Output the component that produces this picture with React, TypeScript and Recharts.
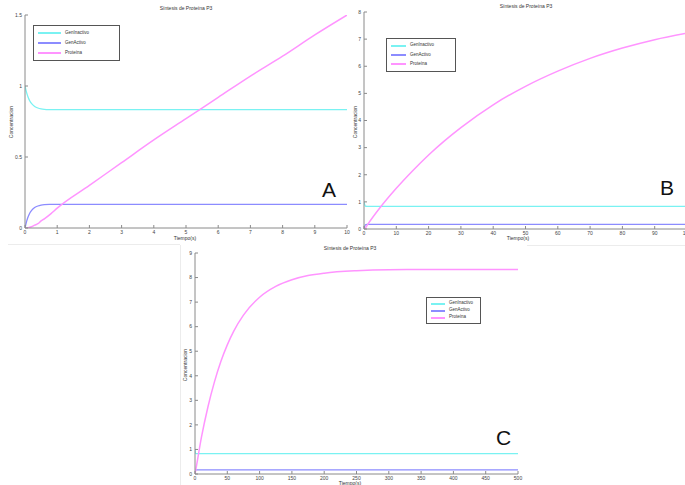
import { LineChart, Line, XAxis, YAxis, Legend } from 'recharts'

const FONT = '"Liberation Sans", Arial, sans-serif'

const CYAN = '#7af2f2'
const BLUE = '#8c8cff'
const PINK = '#ff94ff'
const AXIS = '#8a8a8a'

const seriesNames = ['GenInactivo', 'GenActivo', 'Proteína']
const seriesColors = [CYAN, BLUE, PINK]

// Panel A: first 10 s
const timeA = [0, 0.05, 0.1, 0.15, 0.2, 0.3, 0.4, 0.5, 0.6, 0.8, 1, 2, 3, 4, 5, 6, 7, 8, 9, 10]
const inactivoA = [1, 0.953, 0.919, 0.894, 0.877, 0.856, 0.845, 0.839, 0.836, 0.834, 0.833, 0.833, 0.833, 0.833, 0.833, 0.833, 0.833, 0.833, 0.833, 0.833]
const activoA = [0, 0.047, 0.081, 0.106, 0.123, 0.144, 0.155, 0.161, 0.164, 0.166, 0.167, 0.167, 0.167, 0.167, 0.167, 0.167, 0.167, 0.167, 0.167, 0.167]
const proteinaA = [0, 0, 0.002, 0.005, 0.009, 0.02, 0.03, 0.05, 0.065, 0.1, 0.14, 0.3, 0.46, 0.62, 0.77, 0.92, 1.07, 1.21, 1.36, 1.5]
const xTicksA = [0, 1, 2, 3, 4, 5, 6, 7, 8, 9, 10]
const yTicksA = [0, 0.5, 1, 1.5]

// Panel B: first 100 s
const timeB = [0, 0.5, 1, 5, 10, 15, 20, 25, 30, 40, 50, 60, 70, 80, 90, 100]
const inactivoB = [1, 0.839, 0.833, 0.833, 0.833, 0.833, 0.833, 0.833, 0.833, 0.833, 0.833, 0.833, 0.833, 0.833, 0.833, 0.833]
const activoB = [0, 0.161, 0.167, 0.167, 0.167, 0.167, 0.167, 0.167, 0.167, 0.167, 0.167, 0.167, 0.167, 0.167, 0.167, 0.167]
const proteinaB = [0, 0.05, 0.14, 0.79, 1.5, 2.14, 2.73, 3.26, 3.74, 4.58, 5.26, 5.82, 6.29, 6.67, 6.98, 7.22]
const xTicksB = [0, 10, 20, 30, 40, 50, 60, 70, 80, 90, 100]
const yTicksB = [0, 1, 2, 3, 4, 5, 6, 7, 8]

// Panel C: 500 s, steady state
const timeC = [0, 1, 10, 20, 30, 40, 50, 60, 75, 100, 125, 150, 175, 200, 250, 300, 400, 500]
const inactivoC = [1, 0.833, 0.833, 0.833, 0.833, 0.833, 0.833, 0.833, 0.833, 0.833, 0.833, 0.833, 0.833, 0.833, 0.833, 0.833, 0.833, 0.833]
const activoC = [0, 0.167, 0.167, 0.167, 0.167, 0.167, 0.167, 0.167, 0.167, 0.167, 0.167, 0.167, 0.167, 0.167, 0.167, 0.167, 0.167, 0.167]
const proteinaC = [0, 0.14, 1.5, 2.73, 3.74, 4.58, 5.26, 5.82, 6.47, 7.2, 7.64, 7.91, 8.08, 8.18, 8.28, 8.32, 8.33, 8.33]
const xTicksC = [0, 50, 100, 150, 200, 250, 300, 350, 400, 450, 500]
const yTicksC = [0, 1, 2, 3, 4, 5, 6, 7, 8, 9]

const toRows = (t: number[], a: number[], b: number[], c: number[]) =>
  t.map((time, i) => ({ t: time, GenInactivo: a[i], GenActivo: b[i], 'Proteína': c[i] }))

interface LegendBoxProps {
  width: number
  height: number
  lineLen: number
  fontSize: number
}

function LegendBox({ width, height, lineLen, fontSize }: LegendBoxProps) {
  return (
    <div
      style={{
        width,
        height,
        boxSizing: 'border-box',
        border: '1px solid #555',
        background: '#fff',
        display: 'flex',
        flexDirection: 'column',
        justifyContent: 'space-around',
        padding: '2px 4px',
        fontFamily: FONT,
        fontSize,
        color: '#333',
      }}
    >
      {seriesNames.map((name, i) => (
        <div key={name} style={{ display: 'flex', alignItems: 'center', lineHeight: 1 }}>
          <span
            style={{
              display: 'inline-block',
              flexShrink: 0,
              width: lineLen,
              height: 2,
              background: seriesColors[i],
              marginRight: 4,
            }}
          />
          <span style={{ whiteSpace: 'nowrap' }}>{name}</span>
        </div>
      ))}
    </div>
  )
}

interface PanelProps {
  left: number
  top: number
  width: number
  height: number
  margin: { top: number; right: number; bottom: number; left: number }
  yWidth: number
  xHeight: number
  data: any[]
  xTicks: number[]
  yTicks: number[]
  legend: { x: number; y: number; w: number; h: number; lineLen: number }
}

function Panel({ left, top, width, height, margin, yWidth, xHeight, data, xTicks, yTicks, legend }: PanelProps) {
  const xDomain = [xTicks[0], xTicks[xTicks.length - 1]]
  const yDomain = [yTicks[0], yTicks[yTicks.length - 1]]
  const tickStyle = { fontSize: 5, fill: '#444', fontFamily: FONT }
  return (
    <div style={{ position: 'absolute', left, top }}>
      <LineChart width={width} height={height} data={data} margin={margin}>
        <XAxis
          dataKey="t"
          type="number"
          domain={xDomain}
          ticks={xTicks}
          allowDataOverflow
          height={xHeight}
          stroke={AXIS}
          tick={tickStyle}
          tickSize={-3}
          tickMargin={5}
          interval={0}
        />
        <XAxis
          xAxisId="top"
          orientation="top"
          type="number"
          domain={xDomain}
          ticks={xTicks}
          allowDataOverflow
          height={0}
          stroke={AXIS}
          tick={false}
          tickSize={-3}
        />
        <YAxis
          type="number"
          domain={yDomain}
          ticks={yTicks}
          allowDataOverflow
          width={yWidth}
          stroke={AXIS}
          tick={tickStyle}
          tickSize={-3}
          tickMargin={6}
          interval={0}
        />
        <YAxis
          yAxisId="right"
          orientation="right"
          type="number"
          domain={yDomain}
          ticks={yTicks}
          allowDataOverflow
          width={0}
          stroke={AXIS}
          tick={false}
          tickSize={-3}
        />
        <Legend
          layout="horizontal"
          verticalAlign="middle"
          align="center"
          wrapperStyle={{ left: legend.x, top: legend.y, width: legend.w, height: legend.h }}
          content={() => <LegendBox width={legend.w} height={legend.h} lineLen={legend.lineLen} fontSize={4.5} />}
        />
        <Line type="monotone" dataKey="GenInactivo" stroke={CYAN} strokeWidth={1.3} dot={false} isAnimationActive={false} />
        <Line type="monotone" dataKey="GenActivo" stroke={BLUE} strokeWidth={1.3} dot={false} isAnimationActive={false} />
        <Line type="monotone" dataKey="Proteína" stroke={PINK} strokeWidth={1.5} dot={false} isAnimationActive={false} />
      </LineChart>
    </div>
  )
}

const title = 'Síntesis de Proteína P3'

export default function App() {
  const small = { fontFamily: FONT, fontSize: 5, fill: '#333' }
  const big = { fontFamily: FONT, fontSize: 21, fill: '#111' }
  return (
    <div style={{ position: 'absolute', left: 0, top: 0, width: 685, height: 485, overflow: 'hidden', background: '#fff' }}>
      <Panel
        left={0}
        top={0}
        width={356}
        height={245}
        margin={{ top: 15, right: 9, bottom: 0, left: 0 }}
        yWidth={25}
        xHeight={17}
        data={toRows(timeA, inactivoA, activoA, proteinaA)}
        xTicks={xTicksA}
        yTicks={yTicksA}
        legend={{ x: 33, y: 25, w: 87, h: 36, lineLen: 23 }}
      />
      <Panel
        left={345}
        top={0}
        width={342}
        height={245}
        margin={{ top: 12, right: 0, bottom: 0, left: 0 }}
        yWidth={19}
        xHeight={16}
        data={toRows(timeB, inactivoB, activoB, proteinaB)}
        xTicks={xTicksB}
        yTicks={yTicksB}
        legend={{ x: 41, y: 38, w: 70, h: 34, lineLen: 15 }}
      />
      <Panel
        left={180}
        top={240}
        width={350}
        height={245}
        margin={{ top: 13, right: 12, bottom: 0, left: 0 }}
        yWidth={15}
        xHeight={11}
        data={toRows(timeC, inactivoC, activoC, proteinaC)}
        xTicks={xTicksC}
        yTicks={yTicksC}
        legend={{ x: 246, y: 57, w: 55, h: 27, lineLen: 14 }}
      />
      <svg width={685} height={485} style={{ position: 'absolute', left: 0, top: 0, pointerEvents: 'none' }}>
        {/* faint frame edges of each figure */}
        <line x1={8} y1={244.5} x2={180} y2={244.5} stroke="#ececec" />
        <line x1={527} y1={245.5} x2={685} y2={245.5} stroke="#ececec" />
        <line x1={180.5} y1={245} x2={180.5} y2={485} stroke="#ececec" />

        <text x={186} y={10} textAnchor="middle" {...small}>{title}</text>
        <text x={526} y={8} textAnchor="middle" {...small}>{title}</text>
        <text x={350} y={250} textAnchor="middle" {...small}>{title}</text>

        <text x={185} y={240} textAnchor="middle" {...small}>Tiempo(s)</text>
        <text x={518} y={240} textAnchor="middle" {...small}>Tiempo(s)</text>
        <text x={350} y={485} textAnchor="middle" {...small}>Tiempo(s)</text>

        <text transform="translate(13,122) rotate(-90)" textAnchor="middle" {...small}>Concentracion</text>
        <text transform="translate(357,122) rotate(-90)" textAnchor="middle" {...small}>Concentracion</text>
        <text transform="translate(187,365) rotate(-90)" textAnchor="middle" {...small}>Concentracion</text>

        <text x={322} y={197} {...big}>A</text>
        <text x={660} y={195} {...big}>B</text>
        <text x={496} y={445} {...big}>C</text>
      </svg>
    </div>
  )
}
